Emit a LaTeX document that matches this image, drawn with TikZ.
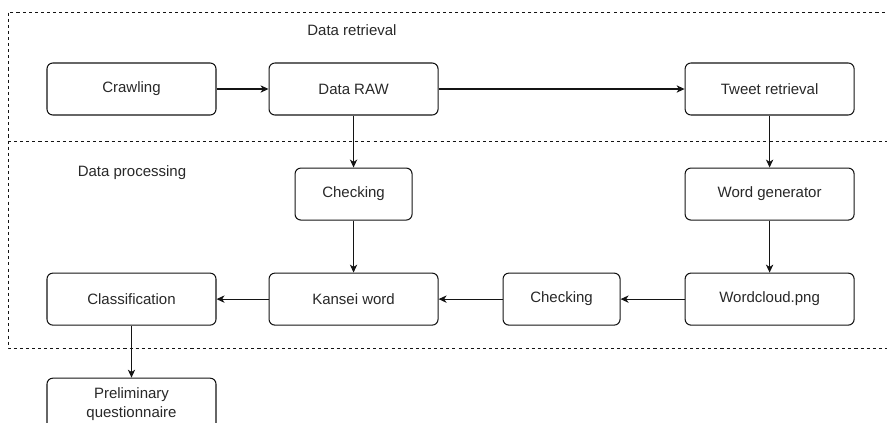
\documentclass[tikz,border=0pt]{standalone}
\usepackage{fontspec}
\setmainfont{Liberation Sans}
\usepackage{xcolor}
\usetikzlibrary{positioning,arrows.meta}
\definecolor{LineBlack}{RGB}{20,20,20}
\definecolor{TextGray}{RGB}{40,40,40}

\begin{document}
\begin{tikzpicture}[
  font=\fontsize{12.8}{15.5}\selectfont,
  node distance=1.56cm,
  box/.style={draw=LineBlack, line width=0.9pt, fill=white, rounded corners=5pt, minimum width=5.07cm, minimum height=1.56cm, align=center, text=TextGray},
  smallbox/.style={box, minimum width=3.51cm},
  region/.style={draw=LineBlack, line width=0.7pt, dash pattern=on 2.6pt off 2.6pt},
  arrow/.style={-{Stealth[length=2.4mm, width=2.2mm, inset=0.7mm]}, line width=0.9pt, color=LineBlack}
]
\useasboundingbox (0,0) rectangle (26.61,-12.66);
\clip (0,0) rectangle (26.61,-12.66);

% dashed regions
\coordinate (topleft) at (0.24,-0.36);
\coordinate (midleft) at (0.24,-4.23);
\coordinate (botleft) at (0.24,-10.44);
\draw[region] (28,-0.36) -- (topleft) -- (botleft) -- (28,-10.44);
\draw[region] (midleft) -- (28,-4.23);
\node[text=TextGray] (retrieval) at (10.56,-0.9) {Data retrieval};
\node[text=TextGray] (processing) at (3.96,-5.19) {Data processing};

% retrieval row
\node[box] (crawl) at (3.945,-2.67) {Crawling};
\node[box, right=of crawl] (raw) {Data RAW};
\node[box, right=7.38cm of raw] (tweet) {Tweet retrieval};

% processing
\node[smallbox, below=of raw] (check1) {Checking};
\node[box, below=of tweet] (wgen) {Word generator};
\node[box, below=of check1] (kansei) {Kansei word};
\node[box, below=of wgen] (wcloud) {Wordcloud.png};
\node[smallbox, left=1.92cm of wcloud] (check2) {Checking};
\node[box, left=of kansei] (class) {Classification};
\node[box, below=of class] (prelim) {Preliminary\\questionnaire};

\draw[arrow] (crawl) -- (raw);
\draw[arrow] (raw) -- (tweet);
\draw[arrow] (raw) -- (check1);
\draw[arrow] (tweet) -- (wgen);
\draw[arrow] (check1) -- (kansei);
\draw[arrow] (wgen) -- (wcloud);
\draw[arrow] (wcloud) -- (check2);
\draw[arrow] (check2) -- (kansei);
\draw[arrow] (kansei) -- (class);
\draw[arrow] (class) -- (prelim);
\end{tikzpicture}
\end{document}
